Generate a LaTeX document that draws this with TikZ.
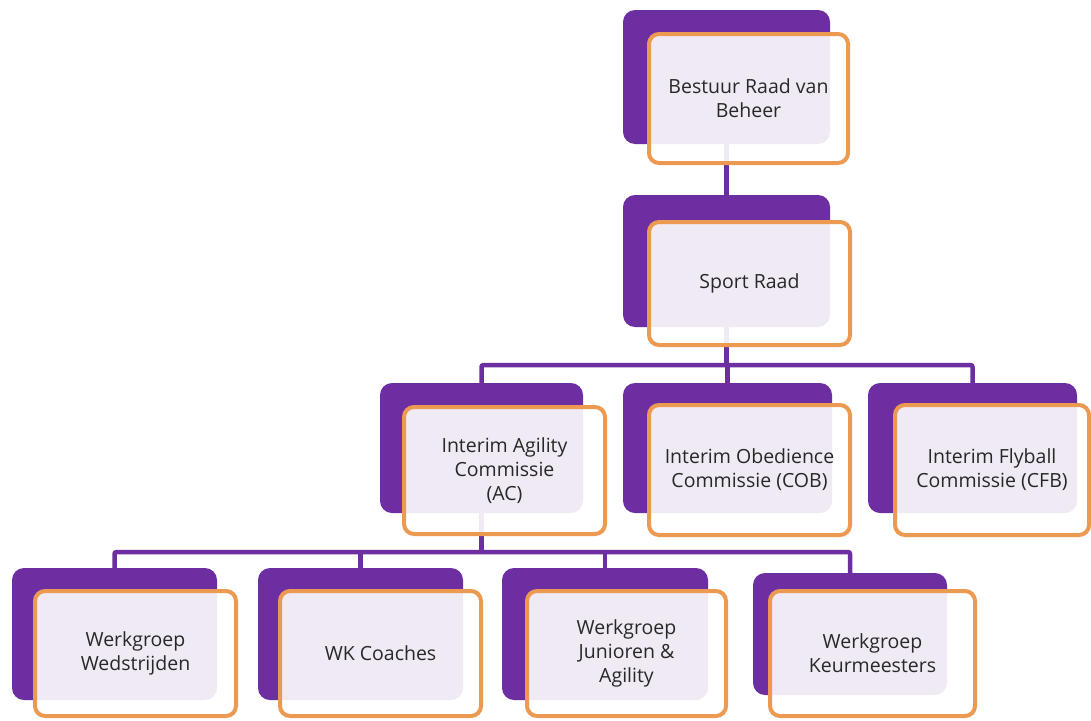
\documentclass[tikz,border=0pt]{standalone}
\usepackage{fontspec}
\setmainfont{Open Sans}
\definecolor{ppl}{RGB}{108,46,160}
\definecolor{org}{RGB}{236,154,82}
\definecolor{txt}{RGB}{40,40,40}
\begin{document}
\begin{tikzpicture}[x=1pt,y=-1pt,
  back/.style={fill=ppl, rounded corners=12pt, inner sep=0pt},
  front/.style={draw=org, line width=4pt, fill=white, fill opacity=0.9, text opacity=1,
    rounded corners=10pt, inner sep=0pt, text=txt, align=center,
    font=\fontsize{19.5}{24}\selectfont},
  conn/.style={draw=ppl, line width=4.5pt}]
\useasboundingbox (0,0) rectangle (1091,720);
\fill[white] (0,0) rectangle (1091,720);
% back (purple) boxes
\node[back, minimum width=207pt, minimum height=134pt] (p1) at (726.5,77) {};
\node[back, minimum width=207pt, minimum height=132pt] (p2) at (726.5,261) {};
\node[back, minimum width=203pt, minimum height=130pt] (p3) at (481.5,448) {};
\node[back, minimum width=209pt, minimum height=130pt] (p4) at (727.5,448) {};
\node[back, minimum width=209pt, minimum height=130pt] (p5) at (972.5,448) {};
\node[back, minimum width=205pt, minimum height=132pt] (q1) at (114.5,634) {};
\node[back, minimum width=205pt, minimum height=132pt] (q2) at (360.5,634) {};
\node[back, minimum width=206pt, minimum height=132pt] (q3) at (605,634) {};
\node[back, minimum width=194pt, minimum height=122pt] (q4) at (850,634) {};
% connectors
\coordinate (bus1) at (726.5,365);
\coordinate (bus2) at (481.5,552);
\draw[conn] (p1.south) -- (p2.north);
\draw[conn] (p2.south) -- (bus1);
\draw[conn, rounded corners=2pt] (p3.north) |- (bus1) -| (p5.north);
\draw[conn] (p4.north) -- (p4.north |- bus1);
\draw[conn] (p3.south) -- (bus2);
\draw[conn, rounded corners=2pt] (q1.north) |- (bus2) -| ([yshift=-6pt]q4.north);
\draw[conn] (q2.north) -- (q2.north |- bus2);
\draw[conn] (q3.north) -- (q3.north |- bus2);
% front (orange) boxes
\node[front, minimum width=199pt, minimum height=129pt] (f1) at (748.5,98.5) {Bestuur Raad van\\Beheer};
\node[front, minimum width=201pt, minimum height=123pt] (f2) at (749.5,283.5) {Sport Raad};
\node[front, minimum width=201pt, minimum height=127pt] (f3) at (504.5,470.5) {Interim Agility\\Commissie\\(AC)};
\node[front, minimum width=201pt, minimum height=130pt] (f4) at (749.5,470) {Interim Obedience\\Commissie (COB)};
\node[front, minimum width=194pt, minimum height=130pt] (f5) at (992,470) {Interim Flyball\\Commissie (CFB)};
\node[front, minimum width=201pt, minimum height=125pt] (g1) at (135.5,653.5) {Werkgroep\\Wedstrijden};
\node[front, minimum width=201pt, minimum height=125pt] (g2) at (380.5,653.5) {WK Coaches};
\node[front, minimum width=199pt, minimum height=125pt] (g3) at (626.5,653.5) {Werkgroep\\Junioren \&\\Agility};
\node[front, minimum width=205pt, minimum height=125pt] (g4) at (872.5,653.5) {Werkgroep\\Keurmeesters};
\end{tikzpicture}
\end{document}
